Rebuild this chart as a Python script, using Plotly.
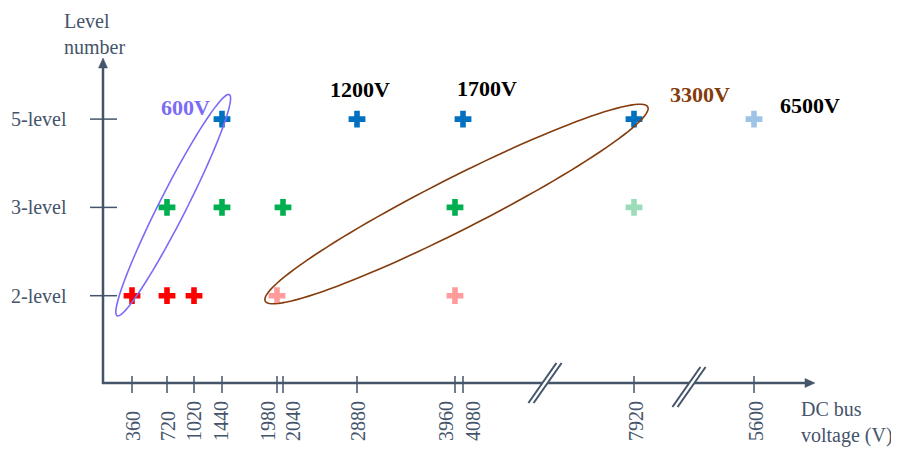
import math
import plotly.graph_objects as go

W, H = 899, 450
OFF = 8                      # default page body margin
FW, FH = W - OFF, H - OFF    # figure size

# ---------------- data ----------------
level_labels = ["2-level", "3-level", "5-level"]
voltage_ticks = ["360", "720", "1020", "1440", "1980", "2040", "2880",
                 "3960", "4080", "7920", "5600"]
ratings = ["600V", "1200V", "1700V", "3300V", "6500V"]

two_level_dark = ["360", "720", "1020"]
two_level_light = ["1980", "3960"]
three_level_dark = ["720", "1440", "2040", "3960"]
three_level_light = ["7920"]
five_level_dark = ["1440", "2880", "4080", "7920"]
five_level_light = ["5600"]

# ---------------- layout helpers ----------------
tick_pos = [132, 167, 194, 222, 277, 283, 357, 455, 463, 634, 754]
label_pos = [132, 167, 193, 220, 267, 292, 357, 445, 472, 635, 755]
xpos = dict(zip(voltage_ticks, tick_pos))
level_pos = {"2-level": 1, "3-level": 2, "5-level": 3}
Y0_PIX, Y_STEP = 384.0, 88.3

AX = "#44546A"
FONT = "Liberation Serif"


def px(x):
    return (x - OFF) / FW


def py(y):
    return 1 - (y - OFF) / FH


fig = go.Figure()

series = [
    (two_level_dark, "2-level", "#FF0000"),
    (two_level_light, "2-level", "#FF9B9B"),
    (three_level_dark, "3-level", "#00B050"),
    (three_level_light, "3-level", "#9BDDB9"),
    (five_level_dark, "5-level", "#0070C0"),
    (five_level_light, "5-level", "#9DC3E6"),
]
for volts, lvl, col in series:
    fig.add_trace(go.Scatter(
        x=[xpos[v] for v in volts],
        y=[level_pos[lvl]] * len(volts),
        mode="markers",
        marker=dict(symbol="cross", size=14, color=col, line=dict(width=0)),
        showlegend=False, hoverinfo="skip"))

shapes = []
annotations = []

# axis lines
shapes.append(dict(type="line", xref="paper", yref="paper",
                   x0=px(102), x1=px(808), y0=py(383), y1=py(383),
                   line=dict(color=AX, width=2.5)))
shapes.append(dict(type="line", xref="paper", yref="paper",
                   x0=px(103), x1=px(103), y0=py(384), y1=py(64),
                   line=dict(color=AX, width=2.5)))
# arrowheads
shapes.append(dict(type="path", xref="paper", yref="paper",
                   path=f"M{px(815)},{py(383)} L{px(805)},{py(378.5)} L{px(805)},{py(387.5)} Z",
                   fillcolor=AX, line=dict(color=AX, width=0.5)))
shapes.append(dict(type="path", xref="paper", yref="paper",
                   path=f"M{px(103)},{py(58)} L{px(98.5)},{py(68)} L{px(107.5)},{py(68)} Z",
                   fillcolor=AX, line=dict(color=AX, width=0.5)))

# x ticks and labels
for lab, xp, lp in zip(voltage_ticks, tick_pos, label_pos):
    shapes.append(dict(type="line", xref="x", yref="paper",
                       x0=xp, x1=xp, y0=py(376), y1=py(393),
                       line=dict(color=AX, width=1.5)))
    annotations.append(dict(text=lab, x=px(lp), y=py(443), xref="paper", yref="paper",
                            xanchor="center", yanchor="bottom", textangle=-90,
                            showarrow=False, xshift=1,
                            font=dict(family=FONT, size=20, color=AX)))

# y ticks and labels
for lab in level_labels:
    v = level_pos[lab]
    shapes.append(dict(type="line", xref="paper", yref="y",
                       x0=px(90), x1=px(117), y0=v, y1=v,
                       line=dict(color=AX, width=1.5)))
    annotations.append(dict(text=lab, x=px(9), y=v, xref="paper", yref="y",
                            xanchor="left", yanchor="middle", showarrow=False,
                            font=dict(family=FONT, size=20, color=AX)))

# axis break marks
for cx, cy in [(545, 383), (689, 387)]:
    dx, dy = 14, -20
    shapes.append(dict(type="line", xref="paper", yref="paper",
                       x0=px(cx - dx), x1=px(cx + dx), y0=py(cy - dy), y1=py(cy + dy),
                       line=dict(color="white", width=5)))
    for off in (-2.6, 2.6):
        shapes.append(dict(type="line", xref="paper", yref="paper",
                           x0=px(cx - dx + off), x1=px(cx + dx + off),
                           y0=py(cy - dy), y1=py(cy + dy),
                           line=dict(color=AX, width=2)))


# ellipses (rotated), built in pixel space
def ellipse_path(cx, cy, a, b, deg, n=120):
    t = math.radians(deg)
    pts = []
    for i in range(n):
        u = 2 * math.pi * i / n
        ex, ey = a * math.cos(u), b * math.sin(u)
        X = cx + ex * math.cos(t) - ey * math.sin(t)
        Y = cy - (ex * math.sin(t) + ey * math.cos(t))
        pts.append(f"{px(X):.5f},{py(Y):.5f}")
    return "M" + " L".join(pts) + " Z"


shapes.append(dict(type="path", xref="paper", yref="paper",
                   path=ellipse_path(173.2, 205.2, 124, 13.5, 63.1),
                   line=dict(color="#7B6CF6", width=1.6)))
shapes.append(dict(type="path", xref="paper", yref="paper",
                   path=ellipse_path(456.5, 204, 214.5, 26, 26.9),
                   line=dict(color="#843C0C", width=1.6)))

# rating labels
rating_style = {"600V": ("#7B6CF6", 185, 108), "1200V": ("#000000", 360, 89),
                "1700V": ("#000000", 487, 88.5), "3300V": ("#843C0C", 700, 95),
                "6500V": ("#000000", 810, 105)}
for r in ratings:
    col, x, y = rating_style[r]
    annotations.append(dict(text=f"<b>{r}</b>", x=px(x), y=py(y), xref="paper", yref="paper",
                            xanchor="center", yanchor="middle", showarrow=False,
                            font=dict(family=FONT, size=22, color=col)))

# axis titles
annotations.append(dict(text="Level<br>number", x=px(62), y=py(8), xref="paper", yref="paper",
                        xanchor="left", yanchor="top", align="left", showarrow=False,
                        font=dict(family=FONT, size=20, color=AX)))
annotations.append(dict(text="DC bus<br>voltage (V)", x=px(799), y=py(396), xref="paper", yref="paper",
                        xanchor="left", yanchor="top", align="left", showarrow=False,
                        font=dict(family=FONT, size=20, color=AX)))

fig.update_layout(
    width=FW, height=FH, margin=dict(l=0, r=0, t=0, b=0),
    paper_bgcolor="white", plot_bgcolor="white",
    xaxis=dict(range=[OFF, W], visible=False, fixedrange=True),
    yaxis=dict(range=[(Y0_PIX - H) / Y_STEP, (Y0_PIX - OFF) / Y_STEP],
               visible=False, fixedrange=True),
    shapes=shapes, annotations=annotations, showlegend=False,
)

fig.write_html("out.html")
